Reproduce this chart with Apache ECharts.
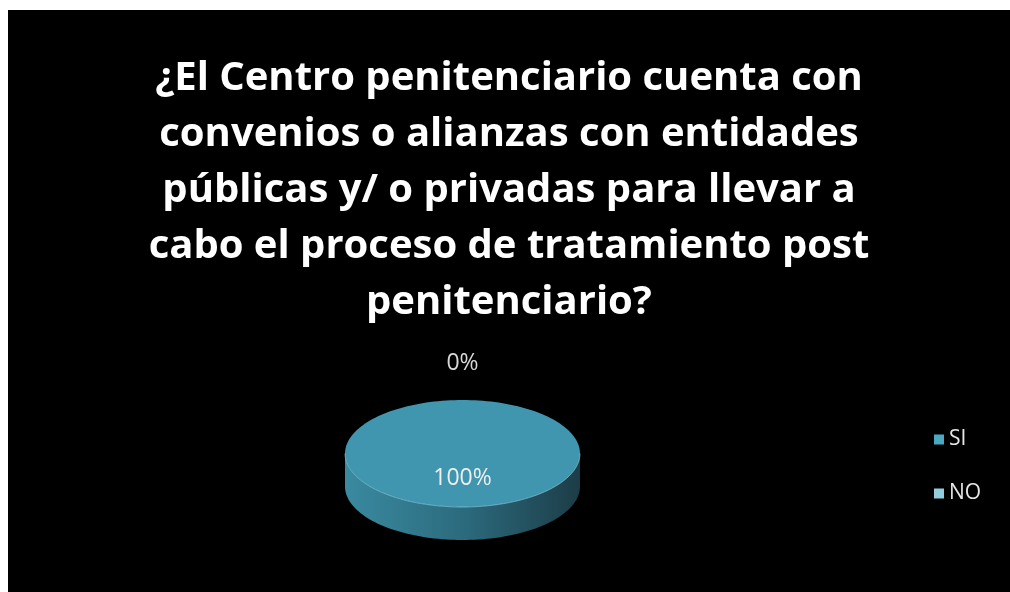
<!DOCTYPE html>
<html>
<head>
<meta charset="utf-8">
<script src="https://cdn.jsdelivr.net/npm/echarts@6/dist/echarts.min.js"></script>
<style>
html, body { margin: 0; padding: 0; background: #fff; }
#chart { position: absolute; left: 8px; top: 10px; width: 1002px; height: 582px; background: #000; }
</style>
</head>
<body>
<div id="chart"></div>
<script>
const titleLines = [
  '¿El Centro penitenciario cuenta con',
  'convenios o alianzas con entidades',
  'públicas y/ o privadas para llevar a',
  'cabo el proceso de tratamiento post',
  'penitenciario?'
]
const categories = ['SI', 'NO']
const values = [100, 0]
const topColors = ['#4096af', '#8fc9da']
const sideColors = [['#3a8aa0', '#2c6b7e', '#1c3d47'], ['#7fb6c6', '#5f8fa0', '#3f6673']]
const legendColors = ['#4aa8c2', '#93cddd']

const total = values.reduce((a, b) => a + b, 0)
// ellipse geometry (chart coords)
const cx = 454.5, cy = 443.5, rx = 117.5, ry = 53.5, depth = 33

function pt(deg, k, dy) {
  const r = deg * Math.PI / 180
  return [cx + rx * k * Math.sin(r), cy - ry * k * Math.cos(r) + (dy || 0)]
}

function arcPoints(a, b, dy) {
  const pts = []
  const n = Math.max(2, Math.ceil((b - a) / 2))
  for (let i = 0; i <= n; i++) pts.push(pt(a + (b - a) * i / n, 1, dy))
  return pts
}

function makeRender(idx) {
  return function (params, api) {
    const v = api.value(0)
    const before = values.slice(0, idx).reduce((a, b) => a + b, 0)
    const start = before / total * 360
    const end = start + v / total * 360
    const children = []
    // front side
    const a = Math.max(start, 90), b = Math.min(end, 270)
    if (b > a) {
      const top = arcPoints(a, b, 0)
      const bottom = arcPoints(a, b, depth).reverse()
      children.push({
        type: 'polygon',
        shape: { points: top.concat(bottom) },
        style: {
          fill: {
            type: 'linear', x: 0, y: 0, x2: 1, y2: 0,
            colorStops: [
              { offset: 0, color: sideColors[idx][0] },
              { offset: 0.5, color: sideColors[idx][1] },
              { offset: 1, color: sideColors[idx][2] }
            ]
          }
        }
      })
    }
    // top face
    if (end > start) {
      const pts = [[cx, cy]].concat(arcPoints(start, end, 0))
      children.push({ type: 'polygon', shape: { points: pts }, style: { fill: topColors[idx] } })
      if (b > a) {
        children.push({
          type: 'polyline',
          shape: { points: arcPoints(a, b, 0) },
          style: { stroke: 'rgba(150,215,235,0.6)', lineWidth: 1, fill: null }
        })
      }
    }
    // label
    const mid = (start + end) / 2
    const pct = Math.round(v / total * 100) + '%'
    let lp
    if (v > 0) {
      lp = pt(mid, 0.47, 0)
    } else {
      const r = mid * Math.PI / 180
      lp = [cx + (rx + 37) * Math.sin(r), cy - (ry + 37) * Math.cos(r)]
    }
    children.push({
      type: 'text',
      x: lp[0], y: lp[1],
      style: {
        text: pct, fill: v > 0 ? '#eeeeee' : '#d9d9d9',
        font: '23px "Open Sans"', align: 'center', verticalAlign: 'middle'
      }
    })
    return { type: 'group', children: children }
  }
}

const chart = echarts.init(document.getElementById('chart'))
chart.setOption({
  backgroundColor: '#000',
  animation: false,
  title: {
    text: titleLines.join('\n'),
    left: 'center',
    top: 36,
    textStyle: {
      color: '#fff',
      fontFamily: 'Open Sans',
      fontWeight: 'bold',
      fontSize: 40,
      lineHeight: 56
    }
  },
  legend: {
    orient: 'vertical',
    left: 921,
    top: 414,
    itemWidth: 10,
    itemHeight: 10,
    itemGap: 33,
    itemTextGap: 8,
    icon: 'rect',
    textStyle: { color: '#e6e6e6', fontSize: 21, fontFamily: 'Open Sans' },
    data: categories
  },
  series: categories.map((name, i) => ({
    type: 'custom',
    name: name,
    coordinateSystem: 'none',
    itemStyle: { color: legendColors[i] },
    data: [[values[i]]],
    renderItem: makeRender(i)
  }))
})
</script>
</body>
</html>
